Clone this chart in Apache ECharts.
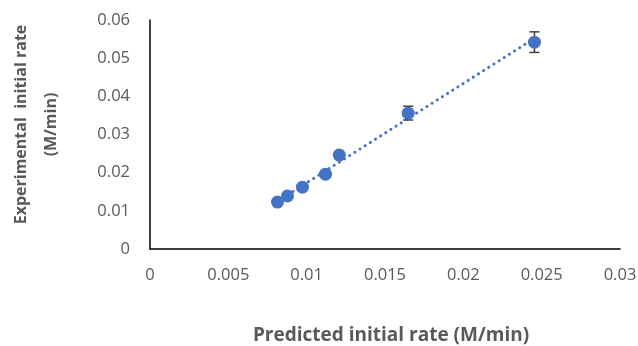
<!DOCTYPE html>
<html>
<head>
<meta charset="utf-8">
<script src="https://cdn.jsdelivr.net/npm/echarts@6/dist/echarts.min.js"></script>
<style>
  html, body { margin: 0; padding: 0; background: #fff; }
  #chart { width: 638px; height: 346px; }
</style>
</head>
<body>
<div id="chart"></div>
<script>
// values
const predicted = [0.00814, 0.00878, 0.00973, 0.0112, 0.01208, 0.01648, 0.02454];
const experimental = [0.0123, 0.0139, 0.0162, 0.0196, 0.0246, 0.0356, 0.0542];
const errors = [0, 0, 0, 0, 0.0008, 0.0018, 0.0027];
// dotted linear trendline, endpoints
const trendX = [0.00814, 0.02454];
const trendY = [0.0125, 0.0552];

const font = '"Open Sans", "Liberation Sans", sans-serif';
const grey = '#595959';

const chart = echarts.init(document.getElementById('chart'));

chart.setOption({
  animation: false,
  grid: { left: 150, right: 18, top: 20, bottom: 97, containLabel: false, outerBoundsMode: 'none' },
  xAxis: {
    type: 'value',
    min: 0,
    max: 0.03,
    interval: 0.005,
    name: 'Predicted initial rate (M/min)',
    nameLocation: 'middle',
    nameGap: 77,
    nameTextStyle: { color: grey, fontFamily: font, fontSize: 19, fontWeight: 'bold', padding: [0, 0, 0, 12] },
    axisLine: { lineStyle: { color: '#000', width: 1.5 } },
    axisTick: { show: false },
    splitLine: { show: false },
    axisLabel: { color: grey, fontFamily: font, fontSize: 16.5, margin: 18 }
  },
  yAxis: {
    type: 'value',
    min: 0,
    max: 0.06,
    interval: 0.01,
    name: 'Experimental  initial rate\n(M/min)',
    nameLocation: 'middle',
    nameGap: 84,
    nameRotate: 90,
    nameTextStyle: { color: grey, fontFamily: font, fontSize: 16, fontWeight: 'bold', lineHeight: 30, padding: [0, 0, 0, 20] },
    axisLine: { show: true, lineStyle: { color: '#000', width: 1.5 } },
    axisTick: { show: false },
    splitLine: { show: false },
    axisLabel: { color: grey, fontFamily: font, fontSize: 16.5, margin: 20 }
  },
  series: [
    {
      type: 'line',
      data: trendX.map((x, i) => [x, trendY[i]]),
      symbol: 'none',
      lineStyle: { color: '#4472C4', width: 3, type: [0.1, 6], cap: 'round' },
      z: 2
    },
    {
      type: 'custom',
      data: predicted.map((x, i) => [x, experimental[i] - errors[i], experimental[i] + errors[i]]),
      renderItem: function (params, api) {
        const lo = api.coord([api.value(0), api.value(1)]);
        const hi = api.coord([api.value(0), api.value(2)]);
        if (hi[1] === lo[1]) return null;
        const w = 5;
        const style = { stroke: '#404040', lineWidth: 1.5 };
        return {
          type: 'group',
          children: [
            { type: 'line', shape: { x1: lo[0], y1: lo[1], x2: hi[0], y2: hi[1] }, style: style },
            { type: 'line', shape: { x1: lo[0] - w, y1: lo[1], x2: lo[0] + w, y2: lo[1] }, style: style },
            { type: 'line', shape: { x1: hi[0] - w, y1: hi[1], x2: hi[0] + w, y2: hi[1] }, style: style }
          ]
        };
      },
      z: 3
    },
    {
      type: 'scatter',
      data: predicted.map((x, i) => [x, experimental[i]]),
      symbolSize: 13,
      itemStyle: { color: '#4472C4', opacity: 1 },
      z: 4
    }
  ]
});
</script>
</body>
</html>
